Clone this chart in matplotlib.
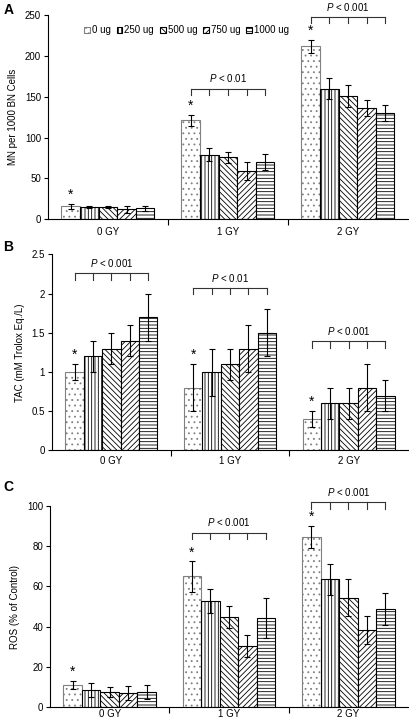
import numpy as np
import matplotlib
matplotlib.use("Agg")
import matplotlib.pyplot as plt
from matplotlib.patches import Patch

plt.rcParams['font.family'] = ['Liberation Sans', 'DejaVu Sans']
plt.rcParams['mathtext.fontset'] = 'custom'
plt.rcParams['mathtext.rm'] = 'Liberation Sans'
plt.rcParams['mathtext.it'] = 'Liberation Sans:italic'
plt.rcParams['hatch.linewidth'] = 0.6

groups = ['0 GY', '1 GY', '2 GY']
doses = ['0 ug', '250 ug', '500 ug', '750 ug', '1000 ug']

# panel A: MN per 1000 BN cells (rows = dose, cols = group)
mn_vals = [[15.5, 121, 212],
           [14.5, 79, 160],
           [14.5, 75.5, 151],
           [12, 59, 136],
           [13, 70, 130]]
mn_err = [[3, 7, 8],
          [1, 8, 13],
          [1, 7, 14],
          [4, 11, 10],
          [3, 9.5, 10]]

# panel B: TAC
tac_vals = [[1.0, 0.8, 0.4],
            [1.2, 1.0, 0.6],
            [1.3, 1.1, 0.6],
            [1.4, 1.3, 0.8],
            [1.7, 1.5, 0.7]]
tac_err = [[0.1, 0.3, 0.1],
           [0.2, 0.3, 0.2],
           [0.2, 0.2, 0.2],
           [0.2, 0.3, 0.3],
           [0.3, 0.3, 0.2]]

# panel C: ROS
ros_vals = [[11, 65, 84.5],
            [8.5, 53, 63.5],
            [7.5, 45, 54.5],
            [7, 30.5, 38.5],
            [7.5, 44.5, 49]]
ros_err = [[2, 7.5, 5.5],
           [3.5, 6, 7.5],
           [2.5, 5.5, 9],
           [3.5, 5.5, 7],
           [3.5, 10, 8]]

# significance brackets: (group, bracket height, label)
mn_brackets = [(1, 160, 'P < 0.01'), (2, 248, 'P < 0.001')]
tac_brackets = [(0, 2.26, 'P < 0.001'), (1, 2.07, 'P < 0.01'), (2, 1.39, 'P < 0.001')]
ros_brackets = [(1, 86.8, 'P < 0.001'), (2, 101.8, 'P < 0.001')]

hatches = ['...', '|||||', '\\\\\\\\\\\\', '//////', '-----']
edges = ['#808080', 'black', 'black', 'black', 'black']
width = 0.155


def draw_panel(ax, vals, errs, brackets, ymax, ystep, ylabel, tick_len, xpad):
    x = np.arange(len(groups))
    for j in range(len(doses)):
        pos = x + (j - 2) * width
        ax.bar(pos, vals[j], width, color='white', edgecolor=edges[j],
               hatch=hatches[j], linewidth=0.8, label=doses[j], zorder=2)
        ax.errorbar(pos, vals[j], yerr=errs[j], fmt='none', ecolor='black',
                    elinewidth=0.8, capsize=2.5, capthick=0.8, zorder=3)
    # stars above control bars
    for i in range(len(groups)):
        top = vals[0][i] + errs[0][i]
        ax.annotate('*', (x[i] - 2 * width, top), xytext=(0, 1.5),
                    textcoords='offset points', ha='center', va='bottom',
                    fontsize=10)
    for g, yb, lab in brackets:
        xs = g + (np.arange(5) - 2) * width
        ax.plot([xs[0], xs[-1]], [yb, yb], color='#333333', lw=0.8,
                clip_on=False)
        for xx in xs:
            ax.plot([xx, xx], [yb, yb - tick_len], color='#333333', lw=0.8,
                    clip_on=False)
        txt = '$P$' + lab[1:]
        ax.annotate(txt, (g, yb), xytext=(0, 3), textcoords='offset points',
                    ha='center', va='bottom', fontsize=7, annotation_clip=False)
    ax.set_xlim(-0.5, 2.5)
    ax.set_ylim(0, ymax)
    ticks = np.arange(0, ymax + ystep / 2, ystep)
    ax.set_yticks(ticks)
    ax.set_yticklabels(['%g' % t for t in ticks])
    ax.set_xticks(x)
    ax.set_xticklabels(groups)
    ax.set_xticks([0.5, 1.5], minor=True)
    ax.tick_params(axis='x', which='major', length=0, labelsize=7, pad=xpad)
    ax.tick_params(axis='x', which='minor', length=4, width=0.8)
    ax.tick_params(axis='y', length=3, width=0.8, labelsize=7, pad=2)
    ax.spines['top'].set_visible(False)
    ax.spines['right'].set_visible(False)
    ax.spines['left'].set_linewidth(0.8)
    ax.spines['bottom'].set_linewidth(0.8)
    ax.set_ylabel(ylabel, fontsize=7, labelpad=5)


fig = plt.figure(figsize=(4.10, 7.23), dpi=100)
axA = fig.add_axes([0.117, 0.697, 0.878, 0.282])
axB = fig.add_axes([0.127, 0.377, 0.868, 0.271])
axC = fig.add_axes([0.122, 0.022, 0.873, 0.278])

draw_panel(axA, mn_vals, mn_err, mn_brackets, 250, 50,
           'MN per 1000 BN Cells', 8, 6)
draw_panel(axB, tac_vals, tac_err, tac_brackets, 2.5, 0.5,
           'TAC (mM Trolox Eq./L)', 0.08, 4)
draw_panel(axC, ros_vals, ros_err, ros_brackets, 100, 20,
           'ROS (% of Control)', 3.2, 1.5)

handles = [Patch(facecolor='white', edgecolor=edges[j], hatch=hatches[j],
                 linewidth=0.8, label=doses[j]) for j in range(5)]
axA.legend(handles=handles, loc='center', bbox_to_anchor=(0.385, 0.926),
           ncol=5, frameon=False, fontsize=7, handlelength=0.6,
           handleheight=0.6, handletextpad=0.2, columnspacing=0.6,
           borderpad=0)

for lab, yy in [('A', 0.986), ('B', 0.658), ('C', 0.326)]:
    fig.text(0.008, yy, lab, fontsize=10, fontweight='bold', va='center')

fig.savefig('out.png', dpi=100)
